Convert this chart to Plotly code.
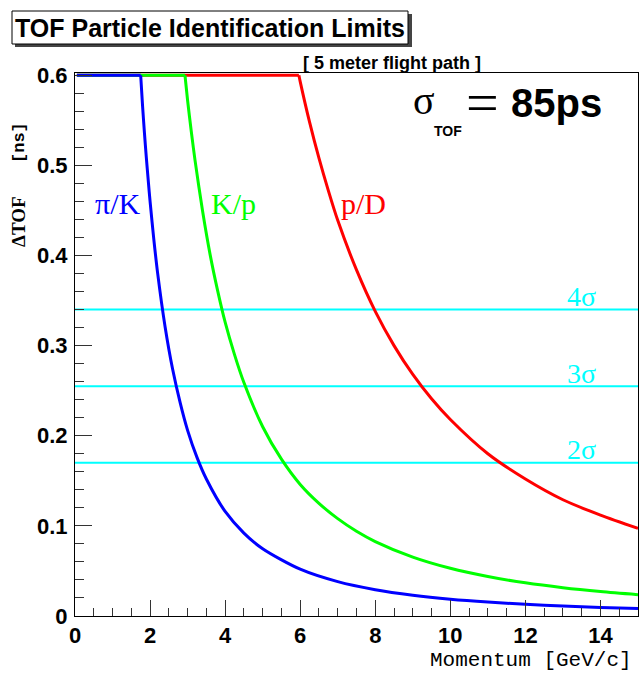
import plotly.graph_objects as go

# ---------------- data ----------------
p_pi_k = [0.05, 1.75, 1.8, 1.85, 1.9, 1.95, 2.0, 2.1, 2.2, 2.4, 2.6, 2.8, 3.0, 3.25, 3.5,
          4.0, 4.5, 5.0, 6.0, 7.0, 8.0, 9.0, 10.0, 11.0, 12.0, 13.0, 14.0, 15.0]
dtof_pi_k = [0.6, 0.6, 0.566, 0.536, 0.509, 0.484, 0.460, 0.418, 0.381, 0.321, 0.274, 0.237,
             0.206, 0.176, 0.152, 0.116, 0.092, 0.0746, 0.0519, 0.0381, 0.0292, 0.0231,
             0.0187, 0.0155, 0.0130, 0.0111, 0.0095, 0.0083]

p_k_p = [0.05, 2.93, 3.0, 3.1, 3.2, 3.4, 3.6, 3.8, 4.0, 4.25, 4.5, 5.0, 5.5, 6.0, 6.5, 7.0,
         7.5, 8.0, 9.0, 10.0, 11.0, 12.0, 13.0, 14.0, 15.0]
dtof_k_p = [0.6, 0.6, 0.572, 0.537, 0.505, 0.449, 0.401, 0.361, 0.326, 0.290, 0.259, 0.210,
            0.174, 0.146, 0.125, 0.108, 0.094, 0.0826, 0.0653, 0.0529, 0.0438, 0.0368,
            0.0314, 0.0271, 0.0236]

p_p_d = [0.05, 5.965, 6.0, 6.25, 6.5, 6.75, 7.0, 7.5, 8.0, 8.5, 9.0, 9.5, 10.0, 11.0, 12.0,
         13.0, 14.0, 15.0]
dtof_p_d = [0.6, 0.6, 0.593, 0.548, 0.508, 0.472, 0.439, 0.384, 0.338, 0.300, 0.268, 0.241,
            0.218, 0.180, 0.152, 0.129, 0.112, 0.0973]

sigma_levels = [0.17, 0.255, 0.34]
sigma_names = ["2σ", "3σ", "4σ"]
sigma_line_p = [0, 15]

x_ticks = [0, 2, 4, 6, 8, 10, 12, 14]
y_ticks = [0, 0.1, 0.2, 0.3, 0.4, 0.5, 0.6]

# ---------------- layout geometry ----------------
WIDTH, HEIGHT = 641, 673
L, R, T, B = 75, 638, 73, 616
PW, PH = R - L, B - T


def px(x):
    return (x - L) / PW


def py(y):
    return (B - y) / PH


fig = go.Figure()

for lvl in sigma_levels:
    fig.add_trace(go.Scatter(x=sigma_line_p, y=[lvl, lvl], mode="lines",
                             line=dict(color="#00ffff", width=2),
                             hoverinfo="skip", showlegend=False))

for xs, ys, col in [(p_p_d, dtof_p_d, "#ff0000"),
                    (p_k_p, dtof_k_p, "#00ff00"),
                    (p_pi_k, dtof_pi_k, "#0000ff")]:
    # saturated (flat) part at the top of the frame
    fig.add_trace(go.Scatter(x=xs[:2], y=ys[:2], mode="lines",
                             line=dict(color=col, width=3),
                             hoverinfo="skip", showlegend=False))
    # falling part
    fig.add_trace(go.Scatter(x=xs[1:], y=ys[1:], mode="lines",
                             line=dict(color=col, width=3, shape="spline", smoothing=0.8),
                             hoverinfo="skip", showlegend=False))

tickfont = dict(family="Liberation Sans", size=22, color="black", weight="bold")

fig.update_xaxes(range=[0, 15], tickvals=x_ticks, ticks="inside", ticklen=16,
                 tickcolor="#333333", tickwidth=1, showline=True, linecolor="black",
                 linewidth=1, mirror=True, showgrid=False, zeroline=False,
                 tickfont=tickfont, ticklabelstandoff=0,
                 minor=dict(dtick=0.5, tick0=0, ticks="inside", ticklen=8,
                            tickcolor="#333333", showgrid=False))
fig.update_yaxes(range=[0, 0.6025], tickvals=y_ticks, ticktext=[str(v) for v in y_ticks],
                 ticks="inside", ticklen=17, tickcolor="#333333", tickwidth=1,
                 showline=True, linecolor="black", linewidth=1, mirror=True,
                 showgrid=False, zeroline=False, tickfont=tickfont, ticklabelstandoff=2,
                 minor=dict(dtick=0.02, tick0=0, ticks="inside", ticklen=9,
                            tickcolor="#333333", showgrid=False))

shapes = [
    dict(type="rect", xref="paper", yref="paper", x0=px(15), x1=px(412), y0=py(47), y1=py(14),
         fillcolor="#444444", line=dict(width=0), layer="above"),
    dict(type="rect", xref="paper", yref="paper", x0=px(12), x1=px(408), y0=py(44), y1=py(11),
         fillcolor="white", line=dict(color="black", width=1), layer="above"),
]

ann = []


def add_text(text, x, y, family, size, color="black", weight="normal", xanchor="center",
             angle=0):
    ann.append(dict(text=text, x=px(x), y=py(y), xref="paper", yref="paper",
                    showarrow=False, xanchor=xanchor, yanchor="middle", textangle=angle,
                    font=dict(family=family, size=size, color=color, weight=weight)))


add_text("TOF Particle Identification Limits", 210, 28, "Liberation Sans", 25, weight="bold")
add_text("[ 5 meter flight path ]", 392, 63, "Liberation Sans", 18, weight="bold")
add_text("σ", 424, 101, "Liberation Serif", 40)
add_text("TOF", 448, 131, "Liberation Sans", 14, weight="bold")
add_text("=", 482, 103, "Liberation Serif", 58)
add_text("85ps", 556, 103, "Liberation Sans", 40, weight="bold")
add_text("Momentum [GeV/c]", 634, 660, "Liberation Mono", 21, xanchor="right")
add_text("[ns]", 19, 143, "Liberation Mono", 17, weight="bold", angle=-90)
add_text("ΔTOF", 19, 222, "Liberation Serif", 19, weight="bold", angle=-90)
add_text("π/K", 117, 203, "Liberation Serif", 30, color="#0000ff")
add_text("K/p", 233, 203, "Liberation Serif", 30, color="#00ff00")
add_text("p/D", 363, 203, "Liberation Serif", 30, color="#ff0000")

for lvl, name in zip(sigma_levels, sigma_names):
    ann.append(dict(text=name, x=13.5, y=lvl, xref="x", yref="y", showarrow=False,
                    xanchor="center", yanchor="middle", yshift=13,
                    font=dict(family="Liberation Serif", size=28, color="#00ffff")))

fig.update_layout(width=WIDTH, height=HEIGHT,
                  margin=dict(l=L, r=WIDTH - R, t=T, b=HEIGHT - B),
                  paper_bgcolor="white", plot_bgcolor="white",
                  showlegend=False, shapes=shapes, annotations=ann)

fig.write_html("out.html")
